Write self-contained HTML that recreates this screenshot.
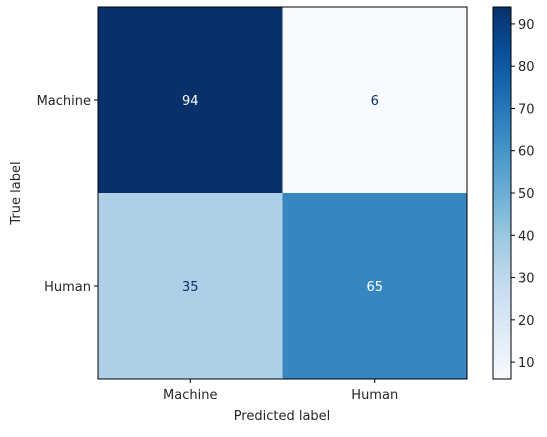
<!DOCTYPE html>
<html><head><meta charset="utf-8"><style>
body{margin:0;background:#fff;font-family:"Liberation Sans","DejaVu Sans",sans-serif}
text{font-family:"DejaVu Sans","Liberation Sans",sans-serif;font-size:13px;fill:#262626}
</style></head><body>
<svg id="chart" width="547" height="432" xmlns="http://www.w3.org/2000/svg">
<defs><linearGradient id="blues" x1="0" y1="1" x2="0" y2="0">
<stop offset="0" stop-color="#f7fbff"/><stop offset="0.125" stop-color="#deebf7"/><stop offset="0.25" stop-color="#c6dbef"/><stop offset="0.375" stop-color="#9ecae1"/><stop offset="0.5" stop-color="#6baed6"/><stop offset="0.625" stop-color="#4292c6"/><stop offset="0.75" stop-color="#2171b5"/><stop offset="0.875" stop-color="#08519c"/><stop offset="1" stop-color="#08306b"/>
</linearGradient></defs>
<g id="cells"></g>
<rect x="98" y="7" width="369" height="372" fill="none" stroke="#000" stroke-width="1"/>
<g id="axes"></g>
<rect x="493" y="7" width="18" height="372" fill="url(#blues)" stroke="#000" stroke-width="1"/>
<g id="cbticks"></g>
<text x="282" y="420" text-anchor="middle">Predicted label</text>
<text transform="translate(20,193) rotate(-90)" text-anchor="middle">True label</text>
</svg>
<script>
const labels=["Machine","Human"];
const values=[[94,6],[35,65]];
const cbTicks=[10,20,30,40,50,60,70,80,90];
const vmin=6, vmax=94;
const X0=98,Y0=7,W=369,H=372,n=labels.length;
const cw=W/n,ch=H/n;
const stops=[[247,251,255],[222,235,247],[198,219,239],[158,202,225],[107,174,214],[66,146,198],[33,113,181],[8,81,156],[8,48,107]];
function color(v){let t=(v-vmin)/(vmax-vmin);t=Math.max(0,Math.min(1,t))*8;const i=Math.min(7,Math.floor(t)),f=t-i;const a=stops[i],b=stops[i+1];return`rgb(${a.map((c,k)=>Math.round(c+(b[k]-c)*f)).join(',')})`;}
const NS="http://www.w3.org/2000/svg";
const cells=document.getElementById('cells'),axes=document.getElementById('axes'),cb=document.getElementById('cbticks');
function mk(tag,attrs,parent,txt){const e=document.createElementNS(NS,tag);for(const k in attrs)e.setAttribute(k,attrs[k]);if(txt!==undefined)e.textContent=txt;parent.appendChild(e);return e;}
for(let r=0;r<n;r++)for(let c=0;c<n;c++){
 const v=values[r][c];
 const rc=mk('rect',{x:X0+c*cw,y:Y0+r*ch,width:cw+0.5,height:ch+0.5,fill:color(v)},cells);
 
 
 const t=mk('text',{x:X0+(c+0.5)*cw,y:Y0+(r+0.5)*ch+5,'text-anchor':'middle',style:'fill:'+((v-vmin)/(vmax-vmin)>0.5?'#fff':'#08306b')},cells,String(v));
 
 
}
labels.forEach((l,i)=>{
 const x=X0+(i+0.5)*cw;
 mk('line',{x1:x,x2:x,y1:379,y2:383,stroke:'#000'},axes);
 const tx=mk('text',{x:x,y:399,'text-anchor':'middle'},axes,l);
 
 
 const y=Y0+(i+0.5)*ch;
 mk('line',{x1:94,x2:98,y1:y,y2:y,stroke:'#000'},axes);
 const ty=mk('text',{x:91,y:y+5,'text-anchor':'end'},axes,l);
 
 
});
cbTicks.forEach(v=>{
 const y=379-(v-vmin)/(vmax-vmin)*372;
 mk('line',{x1:511,x2:515,y1:y,y2:y,stroke:'#000'},cb);
 const t=mk('text',{x:518,y:y+5},cb,String(v));
 
 
});
</script>
</body></html>
